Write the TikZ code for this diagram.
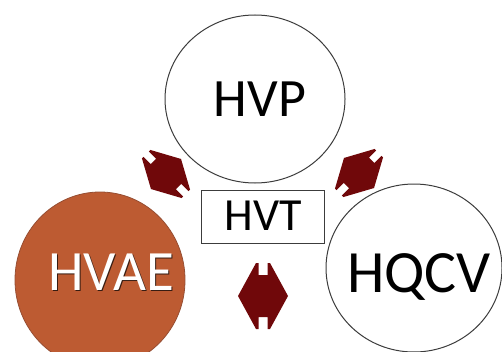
\documentclass[tikz,border=0pt]{standalone}
\usepackage{fontspec}
\setmainfont{Carlito}
\definecolor{arrowred}{RGB}{112,8,10}
\definecolor{vaefill}{RGB}{189,91,50}
\definecolor{vaeline}{RGB}{150,78,50}
\definecolor{shadowc}{RGB}{55,28,18}
\definecolor{edgegray}{RGB}{60,60,60}
\tikzset{
  x=1pt, y=1pt,
  bubble/.style={draw=edgegray, line width=1pt, fill=white},
  label/.style={anchor=base, inner sep=0pt, text=black},
  dblarrow/.pic={
    \fill[arrowred] (-25,0) -- (-7,33) -- (-4.5,33) -- (-4.5,21) -- (4.5,21) -- (4.5,33)
      -- (7,33) -- (25,0) -- (7,-33) -- (4.5,-33) -- (4.5,-21) -- (-4.5,-21)
      -- (-4.5,-33) -- (-7,-33) -- cycle;
  }
}
\begin{document}
\begin{tikzpicture}
\useasboundingbox (0,0) rectangle (502,351);
% ellipses
\draw[bubble] (255,252) ellipse [x radius=90, y radius=84];
\draw[fill=vaefill, draw=vaeline, line width=0.8pt] (100,71) ellipse [x radius=85, y radius=88];
\draw[bubble] (414,83) ellipse [x radius=88, y radius=84];
% HVT box
\node[draw=edgegray, line width=1pt, minimum width=123pt, minimum height=53pt, inner sep=0pt] (hvtbox) at (262.5,134.5) {};
% texts
\node[label, font=\fontsize{54}{54}\selectfont] (hvp) at (260,234) {HVP};
\node[label, font=\fontsize{60}{60}\selectfont] (hqcv) at (419,59) {HQCV};
\node[label, font=\fontsize{57}{57}\selectfont, text=shadowc] (hvaeshadow) at (112.3,59.7) {HVAE};
\node[label, font=\fontsize{57}{57}\selectfont, text=white] (hvae) at (111,61) {HVAE};
\node[label, font=\fontsize{46}{46}\selectfont] (hvt) at (263,121) {HVT};
% arrows
\pic[rotate=45, scale=0.85] at (166,177) {dblarrow};
\pic[rotate=-45, scale=0.85] at (359,178) {dblarrow};
\pic at (263,55) {dblarrow};
\end{tikzpicture}
\end{document}
